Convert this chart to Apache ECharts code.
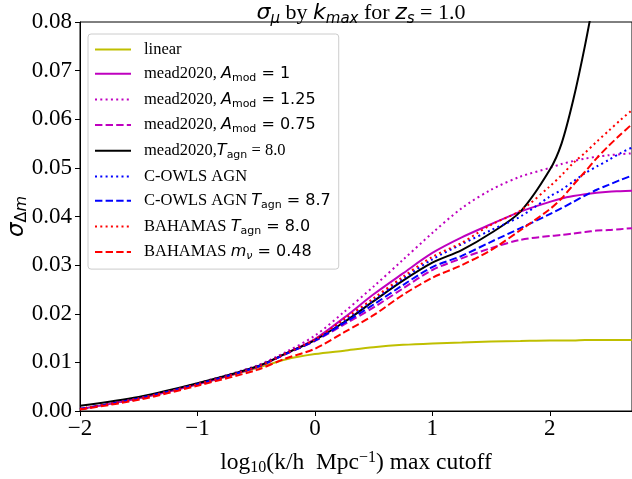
<!DOCTYPE html>
<html>
<head>
<meta charset="utf-8">
<script src="https://cdn.jsdelivr.net/npm/echarts@6/dist/echarts.min.js"></script>
<style>
html,body{margin:0;padding:0;background:#fff;}
#chart{width:632px;height:479px;}
</style>
</head>
<body>
<div id="chart"></div>
<script>
// log10(k) cutoff values
const kx = [-2, -1.5, -1, -0.5, -0.25, 0, 0.25, 0.5, 0.75, 1, 1.25, 1.5, 1.75, 2, 2.1, 2.2, 2.3, 2.4, 2.5, 2.6, 2.7];

const linear     = [0.0004, 0.0026, 0.0055, 0.0088, 0.0106, 0.0117, 0.0124, 0.0131, 0.0136, 0.0139, 0.0141, 0.0143, 0.0144, 0.0145, 0.0145, 0.0145, 0.0146, 0.0146, 0.0146, 0.0146, 0.0146];
const meadA1     = [0.0004, 0.0026, 0.0055, 0.0090, 0.0118, 0.0148, 0.0192, 0.0240, 0.0283, 0.0325, 0.0357, 0.0384, 0.0410, 0.0430, 0.0437, 0.0442, 0.0446, 0.0449, 0.0451, 0.0452, 0.0453];
const meadA125   = [0.0004, 0.0027, 0.0057, 0.0093, 0.0121, 0.0155, 0.0204, 0.0256, 0.0311, 0.0366, 0.0417, 0.0455, 0.0482, 0.0500, 0.0508, 0.0514, 0.0519, 0.0523, 0.0526, 0.0528, 0.0530];
const meadA075   = [0.0004, 0.0026, 0.0055, 0.0090, 0.0117, 0.0144, 0.0178, 0.0213, 0.0252, 0.0290, 0.0314, 0.0335, 0.0352, 0.0360, 0.0362, 0.0365, 0.0368, 0.0371, 0.0372, 0.0374, 0.0376];
const meadTagn   = [0.0011, 0.0029, 0.0057, 0.0091, 0.0118, 0.0146, 0.0183, 0.0226, 0.0268, 0.0305, 0.0331, 0.0366, 0.0410, 0.0496, 0.0550, 0.0640, 0.0752, 0.0880, null, null, null];
const cowls      = [0.0004, 0.0026, 0.0055, 0.0090, 0.0118, 0.0146, 0.0186, 0.0228, 0.0272, 0.0312, 0.0343, 0.0372, 0.0400, 0.0441, 0.0455, 0.0472, 0.0489, 0.0503, 0.0516, 0.0530, 0.0542];
const cowls87    = [0.0004, 0.0026, 0.0055, 0.0090, 0.0117, 0.0145, 0.0181, 0.0219, 0.0259, 0.0296, 0.0319, 0.0348, 0.0376, 0.0405, 0.0417, 0.0430, 0.0443, 0.0455, 0.0465, 0.0475, 0.0484];
const bahamas80  = [0.0004, 0.0026, 0.0055, 0.0090, 0.0118, 0.0147, 0.0189, 0.0232, 0.0276, 0.0317, 0.0346, 0.0383, 0.0412, 0.0462, 0.0485, 0.0510, 0.0531, 0.0554, 0.0576, 0.0598, 0.0619];
const bahamasMnu = [0.0003, 0.0023, 0.0052, 0.0084, 0.0108, 0.0128, 0.0162, 0.0197, 0.0239, 0.0274, 0.0300, 0.0331, 0.0372, 0.0415, 0.0437, 0.0465, 0.0492, 0.0520, 0.0545, 0.0568, 0.0590];

const seriesNames = ['linear', 'meadA1', 'meadA125', 'meadA075', 'meadTagn', 'cowls', 'cowls87', 'bahamas80', 'bahamasMnu'];
const seriesValues = [linear, meadA1, meadA125, meadA075, meadTagn, cowls, cowls87, bahamas80, bahamasMnu];
const legendLabels = {
  linear: '{t|linear}',
  meadA1: '{t|mead2020, }{mi|A}{sub|mod}{m| = 1}',
  meadA125: '{t|mead2020, }{mi|A}{sub|mod}{m| = 1.25}',
  meadA075: '{t|mead2020, }{mi|A}{sub|mod}{m| = 0.75}',
  meadTagn: '{t|mead2020,}{mi|T}{sub|agn}{t| = 8.0}',
  cowls: '{t|C-OWLS AGN}',
  cowls87: '{t|C-OWLS AGN }{mi|T}{sub|agn}{m| = 8.7}',
  bahamas80: '{t|BAHAMAS }{mi|T}{sub|agn}{m| = 8.0}',
  bahamasMnu: '{t|BAHAMAS }{mi|m}{subi|ν}{m| = 0.48}'
};

const colors = ['#bfbf00', '#bf00bf', '#bf00bf', '#bf00bf', '#000000', '#0000ff', '#0000ff', '#ff0000', '#ff0000'];
const DASH = [7.4, 3.2], DOT = [2, 3.3];
const styles = ['solid', 'solid', DOT, DASH, 'solid', DOT, DASH, DOT, DASH];

const serif = 'Liberation Serif';
const sans = 'DejaVu Sans';

const chart = echarts.init(document.getElementById('chart'), null, {renderer: 'canvas'});

const series = seriesNames.map((n, i) => ({
  name: n,
  type: 'line',
  data: kx.map((x, j) => [x, seriesValues[i][j]]),
  symbol: 'none',
  showSymbol: false,
  smooth: 0.3,
  clip: true,
  connectNulls: false,
  color: colors[i],
  lineStyle: {color: colors[i], width: 2, type: styles[i]}
}));

const minus = v => (v < 0 ? '\u2212' + Math.abs(v) : String(v));
const tk = (f, s, lh, extra) => Object.assign({fontFamily: f, fontSize: s, lineHeight: lh, color: '#000', fontWeight: 'normal'}, extra || {});

chart.setOption({
  animation: false,
  backgroundColor: '#ffffff',
  title: {
    text: '{mi|σ}{sub|μ}{t| by }{mi|k}{sub|max}{t| for }{mi|z}{sub|s}{t| = 1.0}',
    left: 356,
    top: -5,
    textAlign: 'center',
    textStyle: {
      fontWeight: 'normal',
      rich: {
        t: tk(serif, 22, 27),
        mi: tk(sans, 22, 27, {fontStyle: 'italic'}),
        sub: tk(sans, 15, 11, {fontStyle: 'italic', verticalAlign: 'bottom'})
      }
    }
  },
  grid: {left: 80, right: 0, top: 22, bottom: 68, show: true, borderColor: '#000', borderWidth: 1, backgroundColor: 'transparent', outerBoundsMode: 'none', containLabel: false},
  legend: {
    orient: 'vertical',
    left: 88,
    top: 34,
    data: seriesNames,
    itemWidth: 36,
    itemHeight: 14,
    itemGap: 7.2,
    padding: [7, 8, 7, 6],
    backgroundColor: 'rgba(255,255,255,0.8)',
    borderColor: '#cccccc',
    borderWidth: 1,
    borderRadius: 3,
    selectedMode: false,
    itemStyle: {opacity: 0, borderWidth: 0},
    formatter: n => legendLabels[n],
    textStyle: {
      padding: [0, 0, 0, 8],
      rich: {
        t: tk(serif, 16.5, 20),
        m: tk(sans, 16, 20),
        mi: tk(sans, 16, 20, {fontStyle: 'italic'}),
        sub: tk(sans, 11, 9, {verticalAlign: 'bottom'}),
        subi: tk(sans, 11, 9, {fontStyle: 'italic', verticalAlign: 'bottom'})
      }
    }
  },
  xAxis: {
    type: 'value',
    min: -2,
    max: 2.7,
    interval: 1,
    splitLine: {show: false},
    axisLine: {show: true, onZero: false, lineStyle: {color: '#000', width: 1}},
    axisTick: {show: true, inside: false, length: 5, lineStyle: {color: '#000', width: 1}},
    axisLabel: {
      color: '#000', fontFamily: serif, fontSize: 23, margin: 6,
      showMaxLabel: false,
      formatter: v => (Math.abs(v - Math.round(v)) < 1e-9 ? minus(Math.round(v)) : '')
    },
    name: '{t|log}{sub|10}{t|(k/h  Mpc}{sup|−1}{t|) max cutoff}',
    nameLocation: 'middle',
    nameGap: 39,
    nameMoveOverlap: false,
    nameTextStyle: {
      rich: {
        t: tk(serif, 23.5, 26),
        sub: tk(serif, 16, 12, {verticalAlign: 'bottom'}),
        sup: tk(serif, 16, 12, {verticalAlign: 'top'})
      }
    }
  },
  yAxis: {
    type: 'value',
    min: 0,
    max: 0.08,
    interval: 0.01,
    splitLine: {show: false},
    axisLine: {show: true, onZero: false, lineStyle: {color: '#000', width: 1}},
    axisTick: {show: true, inside: false, length: 5, lineStyle: {color: '#000', width: 1}},
    axisLabel: {
      color: '#000', fontFamily: serif, fontSize: 23, margin: 8,
      formatter: v => v.toFixed(2)
    },
    name: '{mi|σ}{sub|Δ}{subi|m}',
    nameLocation: 'middle',
    nameRotate: 90,
    nameGap: 50,
    nameMoveOverlap: false,
    nameTextStyle: {
      rich: {
        mi: tk(sans, 23, 26, {fontStyle: 'italic'}),
        sub: tk(sans, 16, 12, {verticalAlign: 'bottom'}),
        subi: tk(sans, 16, 12, {fontStyle: 'italic', verticalAlign: 'bottom'})
      }
    }
  },
  series: series
});
</script>
</body>
</html>
